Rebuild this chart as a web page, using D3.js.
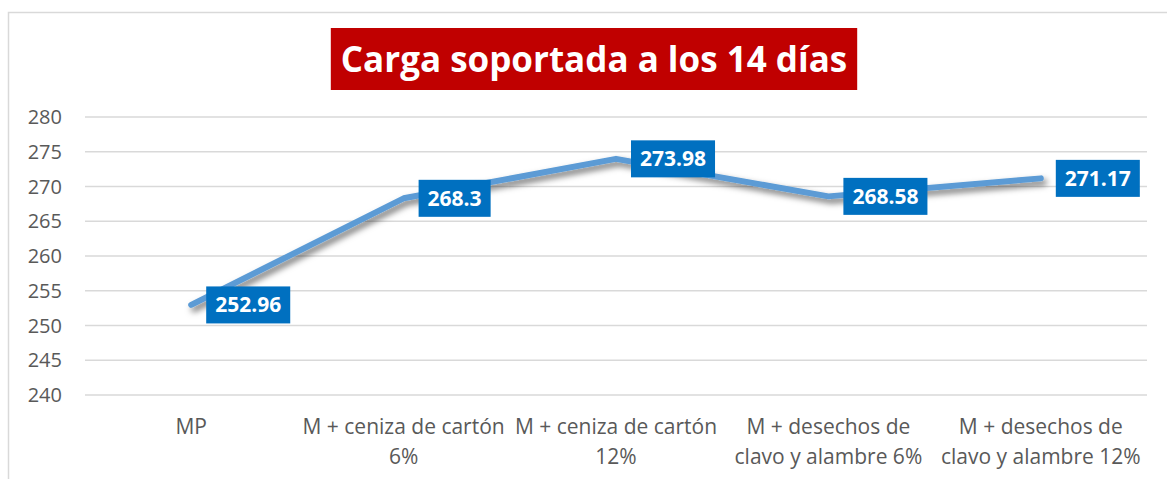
<!DOCTYPE html>
<html>
<head>
<meta charset="utf-8">
<title>Carga soportada a los 14 días</title>
<script src="https://cdn.jsdelivr.net/npm/d3@7"></script>
<style>
  body { margin: 0; background: #fff; }
  text { font-family: "Open Sans", "Noto Sans", sans-serif; }
</style>
</head>
<body>
<div id="chart"></div>
<script>
// data
var categories = [
    ["MP"],
    ["M + ceniza de cartón", "6%"],
    ["M + ceniza de cartón", "12%"],
    ["M + desechos de", "clavo y alambre 6%"],
    ["M + desechos de", "clavo y alambre 12%"]
];
var values = [252.96, 268.3, 273.98, 268.58, 271.17];
var yTicks = [240, 245, 250, 255, 260, 265, 270, 275, 280];
var title = "Carga soportada a los 14 días";

var width = 1167, height = 479;
var plot = { left: 85, right: 1147, top: 117, bottom: 395 };

var svg = d3.select("#chart").append("svg")
    .attr("width", width)
    .attr("height", height);

var defs = svg.append("defs");
defs.append("filter")
    .attr("id", "shadow")
    .attr("x", "-10%").attr("y", "-20%")
    .attr("width", "120%").attr("height", "140%")
    .append("feDropShadow")
    .attr("dx", 3).attr("dy", 4)
    .attr("stdDeviation", 3)
    .attr("flood-color", "#000")
    .attr("flood-opacity", 0.55);

// chart border (runs off the right / bottom edge)
svg.append("rect")
    .attr("x", 8.5).attr("y", 12.5)
    .attr("width", 1180).attr("height", 500)
    .attr("fill", "none")
    .attr("stroke", "#d9d9d9")
    .attr("stroke-width", 1.5);

var x = d3.scaleBand()
    .domain(d3.range(categories.length))
    .range([plot.left, plot.right]);

var y = d3.scaleLinear()
    .domain([240, 280])
    .range([plot.bottom, plot.top]);

// gridlines
svg.append("g")
    .selectAll("line")
    .data(yTicks)
    .enter().append("line")
    .attr("x1", plot.left).attr("x2", plot.right)
    .attr("y1", function (d) { return y(d); })
    .attr("y2", function (d) { return y(d); })
    .attr("stroke", "#d9d9d9")
    .attr("stroke-width", 1.5);

// y axis labels
svg.append("g")
    .selectAll("text")
    .data(yTicks)
    .enter().append("text")
    .attr("x", 62)
    .attr("y", function (d) { return y(d); })
    .attr("dy", "0.36em")
    .attr("text-anchor", "end")
    .attr("font-size", 20)
    .attr("fill", "#595959")
    .text(function (d) { return d; });

// category labels
var cat = svg.append("g")
    .selectAll("text")
    .data(categories)
    .enter().append("text")
    .attr("text-anchor", "middle")
    .attr("font-size", 21)
    .attr("fill", "#595959");

cat.selectAll("tspan")
    .data(function (d, i) { return d.map(function (s) { return { s: s, i: i }; }); })
    .enter().append("tspan")
    .attr("x", function (d) { return x(d.i) + x.bandwidth() / 2; })
    .attr("y", function (d, j) { return 434 + j * 30; })
    .text(function (d) { return d.s; });

// line
var line = d3.line()
    .x(function (d, i) { return x(i) + x.bandwidth() / 2; })
    .y(function (d) { return y(d); });

svg.append("path")
    .datum(values)
    .attr("d", line)
    .attr("fill", "none")
    .attr("stroke", "#5b9bd5")
    .attr("stroke-width", 6)
    .attr("stroke-linecap", "round")
    .attr("stroke-linejoin", "round")
    .attr("filter", "url(#shadow)");

// data labels, to the right of each point
var lab = svg.append("g")
    .selectAll("g")
    .data(values)
    .enter().append("g")
    .attr("transform", function (d, i) {
        return "translate(" + (x(i) + x.bandwidth() / 2 + 15) + "," + y(d) + ")";
    });

lab.append("rect")
    .attr("fill", "#0070c0");

var labText = lab.append("text")
    .attr("dy", "0.36em")
    .attr("font-size", 21)
    .attr("font-weight", "bold")
    .attr("fill", "#fff")
    .text(function (d) { return d; });

labText.each(function () {
    var w = this.getComputedTextLength();
    d3.select(this).attr("x", 9);
    d3.select(this.previousSibling)
        .attr("x", 0).attr("y", -18.5)
        .attr("width", w + 18).attr("height", 37);
});

// title
var tg = svg.append("g");
var tRect = tg.append("rect").attr("fill", "#c00000");
var tText = tg.append("text")
    .attr("x", 594)
    .attr("y", 59)
    .attr("dy", "0.36em")
    .attr("text-anchor", "middle")
    .attr("font-size", 35)
    .attr("font-weight", "bold")
    .attr("fill", "#fff")
    .text(title);

var tw = tText.node().getComputedTextLength();
tRect.attr("x", 594 - tw / 2 - 10).attr("y", 28)
    .attr("width", tw + 20).attr("height", 62);
</script>
</body>
</html>
